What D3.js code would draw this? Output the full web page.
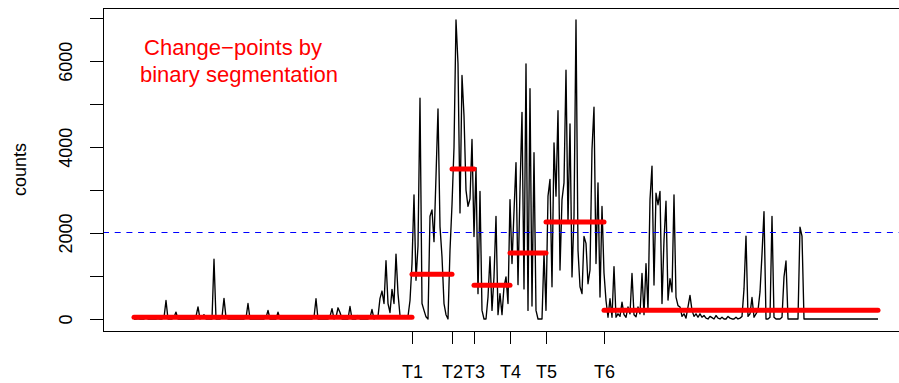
<!DOCTYPE html>
<html>
<head>
<meta charset="utf-8">
<script src="https://cdn.jsdelivr.net/npm/d3@7"></script>
<style>
  body { margin: 0; background: #fff; }
  svg { display: block; font-family: "Liberation Sans", Arial, Helvetica, sans-serif; }
</style>
</head>
<body>
<svg width="899" height="383"></svg>
<script>
// daily counts (one value per time step)
var counts = [
  0,0,10,0,0,0,20,0,0,0,0,0,10,0,0,30,430,0,0,0,
  40,160,0,0,0,0,0,0,0,0,0,60,280,0,20,100,0,0,0,0,
  1390,0,0,0,50,480,30,0,0,0,0,0,0,0,0,0,20,360,0,0,
  0,0,0,0,0,0,30,200,0,0,0,0,160,0,0,0,0,0,0,0,
  0,0,0,0,0,0,0,0,0,0,40,470,0,0,0,0,0,0,60,240,
  0,40,260,150,0,0,0,0,290,0,0,0,80,0,0,0,0,0,30,220,
  0,40,60,
  480,650,360,1355,360,150,690,360,1510,590,80,60,80,50,60,430,
  1290,2890,900,1700,5140,360,200,50,0,2390,2540,1800,3320,4890,2150,1450,360,100,0,1600,
  2660,3990,6960,5940,2470,5670,4730,3000,2620,2800,4180,
  1920,3520,590,2970,200,0,0,510,1450,200,980,2390,100,590,100,750,980,360,
  2780,1290,2500,3640,800,3010,4810,700,5940,200,5360,300,3870,200,0,0,0,
  1540,200,2860,3250,750,4100,2860,4850,1140,2780,3170,5790,2230,4540,980,2390,
  6960,1600,750,590,1920,1760,820,1140,3950,4930,1290,3170,510,2620,1070,
  430,40,470,40,1220,40,120,60,390,100,40,280,120,1060,100,50,280,120,1060,100,
  1290,200,2780,3560,790,2930,2660,2970,360,1840,2740,440,940,630,2890,510,310,280,60,120,
  20,280,550,200,60,120,40,120,
  40,80,20,0,60,30,0,80,20,0,40,0,0,60,20,0,0,40,0,20,
  60,700,1930,60,120,500,40,120,200,630,1510,2500,0,0,40,2390,40,0,0,0,
  40,980,1350,0,0,0,0,0,0,2140,1930,
  0,0,0,0,0,0,0,0,0,0,0,0,0,0,0,0,0,0,0,0,
  0,0,0,0,0,0,0,0,0,0,0,0,0,0,0,0,0,0
];

var changePoints = [140, 160, 171, 189, 207, 236];
var changeLabels = ["T1", "T2", "T3", "T4", "T5", "T6"];
var segmentMeans = [39, 1040, 3491, 784, 1536, 2257, 202];
var threshold = 2025;

var yTicks = [0, 1000, 2000, 3000, 4000, 5000, 6000, 7000];
var yLabels = [0, 2000, 4000, 6000];
var yTitle = "counts";
var noteLines = ["Change\u2212points by", "binary segmentation"];

var svg = d3.select("svg");
var box = { left: 103, right: 909, top: 8, bottom: 331 };
var n = counts.length;

var x = d3.scaleLinear().domain([1, n]).range([134, 878]);
var y = d3.scaleLinear().domain([-280, 7240]).range([box.bottom, box.top]);

svg.append("rect")
  .attr("width", 899).attr("height", 383).attr("fill", "#fff");

// the series
var line = d3.line()
  .x(function (d, i) { return x(i + 1); })
  .y(function (d) { return y(d); });

svg.append("path")
  .datum(counts)
  .attr("d", line)
  .attr("fill", "none")
  .attr("stroke", "#000")
  .attr("stroke-width", 1.35)
  .attr("stroke-linejoin", "round");

// threshold line (snapped to the pixel grid so it stays sharp)
var ty = Math.round(y(threshold)) + 0.5;
svg.append("line")
  .attr("x1", box.left).attr("x2", box.right)
  .attr("y1", ty).attr("y2", ty)
  .attr("stroke", "#0000ff")
  .attr("stroke-width", 1.2)
  .attr("stroke-dasharray", "6,5.7");

// segment means between change points
var bounds = [1].concat(changePoints, [n]);
svg.selectAll(".seg")
  .data(segmentMeans)
  .enter().append("line")
  .attr("class", "seg")
  .attr("x1", function (d, i) { return x(bounds[i]); })
  .attr("x2", function (d, i) { return x(bounds[i + 1]); })
  .attr("y1", function (d) { return y(d); })
  .attr("y2", function (d) { return y(d); })
  .attr("stroke", "#ff0000")
  .attr("stroke-width", 5)
  .attr("stroke-linecap", "round");

// box
svg.append("rect")
  .attr("x", box.left).attr("y", box.top)
  .attr("width", box.right - box.left).attr("height", box.bottom - box.top)
  .attr("fill", "none")
  .attr("stroke", "#000")
  .attr("stroke-width", 1)
  .attr("shape-rendering", "crispEdges");

// y axis
var gy = svg.append("g")
  .attr("transform", "translate(" + box.left + ",0)")
  .call(d3.axisLeft(y)
    .tickValues(yTicks)
    .tickSize(13)
    .tickFormat(function (d) { return yLabels.indexOf(d) >= 0 ? d : ""; }));
gy.select(".domain").remove();
gy.selectAll("line").attr("shape-rendering", "crispEdges");
gy.attr("font-size", 18).attr("font-family", null);
gy.selectAll("text")
  .attr("transform", "rotate(-90)")
  .attr("x", 0)
  .attr("y", -31)
  .attr("dy", 0)
  .attr("text-anchor", "middle")
  .attr("fill", "#000");

// x axis
var gx = svg.append("g")
  .attr("transform", "translate(0," + box.bottom + ")")
  .call(d3.axisBottom(x)
    .tickValues(changePoints)
    .tickSize(13)
    .tickFormat(function (d, i) { return changeLabels[i]; }));
gx.select(".domain").remove();
gx.selectAll("line").attr("shape-rendering", "crispEdges");
gx.attr("font-size", 18).attr("font-family", null);
gx.selectAll("text")
  .attr("y", 47)
  .attr("dy", 0)
  .attr("fill", "#000");

// axis title
svg.append("text")
  .attr("transform", "translate(25.5," + ((box.top + box.bottom) / 2) + ") rotate(-90)")
  .attr("text-anchor", "middle")
  .attr("font-size", 18)
  .text(yTitle);

// note
svg.selectAll(".note")
  .data(noteLines)
  .enter().append("text")
  .attr("class", "note")
  .attr("x", function (d, i) { return i === 0 ? 233 : 239; })
  .attr("y", function (d, i) { return 55 + i * 26.7; })
  .attr("text-anchor", "middle")
  .attr("font-size", 22)
  .attr("fill", "#ff0000")
  .text(function (d) { return d; });
</script>
</body>
</html>
